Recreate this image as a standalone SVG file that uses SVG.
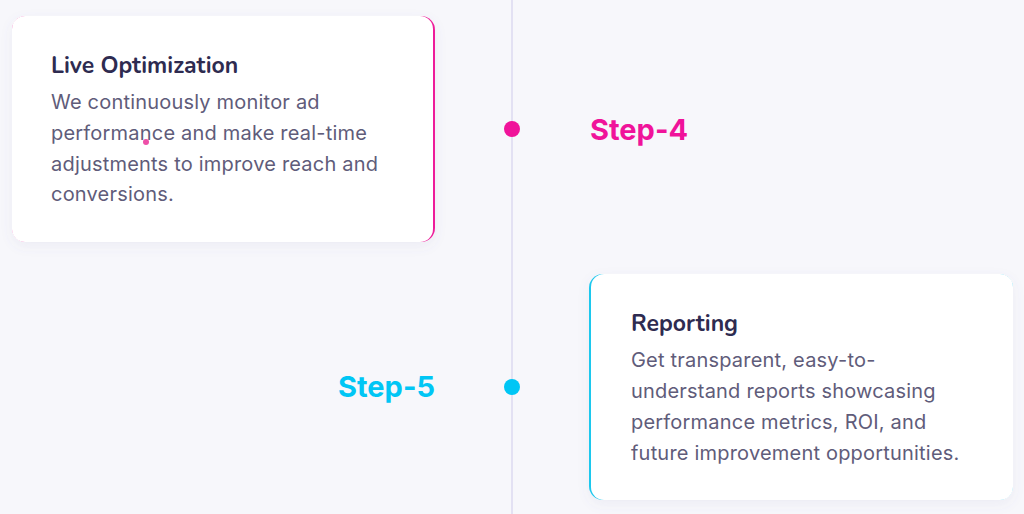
<svg xmlns="http://www.w3.org/2000/svg" width="1024" height="514" viewBox="0 0 1024 514">
<defs>
<filter id="sh" x="-10%" y="-10%" width="120%" height="125%"><feDropShadow dx="0" dy="4" stdDeviation="6" flood-color="#6a6aa0" flood-opacity="0.08"/></filter>
<style>
.title{font-family:"Nunito","Noto Sans",Inter,sans-serif;font-weight:700;font-size:23px;fill:#2e2b50}
.body{font-family:Inter,"Noto Sans",sans-serif;font-size:20px;letter-spacing:0.2px;fill:#5f5c7a}
.step{font-family:Inter,"Noto Sans",sans-serif;font-weight:700;font-size:29px}
.card{fill:#ffffff}
</style>
</defs>
<rect width="1024" height="514" fill="#f7f7fb"/>
<g id="connectors">
<line x1="512" y1="0" x2="512" y2="514" stroke="#dddaf0" stroke-width="1.5"/>
</g>
<g id="card-live-optimization">
<rect x="12" y="16" width="423" height="226" rx="14" fill="#ee1d9a" filter="url(#sh)"/>
<rect x="12" y="16" width="421" height="226" rx="13" class="card"/>
<text class="title" x="51" y="73">Live Optimization</text>
<text class="body" x="51" y="109">We continuously monitor ad</text>
<text class="body" x="51" y="140">performance and make real-time</text>
<text class="body" x="51" y="171">adjustments to improve reach and</text>
<text class="body" x="51" y="201">conversions.</text>
<circle cx="146" cy="142" r="3" fill="#ee4fa8"/>
</g>
<g id="step-4">
<circle cx="512" cy="129" r="8" fill="#f0139a"/>
<text class="step" x="590" y="140" fill="#f0139a">Step-4</text>
</g>
<g id="step-5">
<circle cx="512" cy="387" r="8" fill="#00c6f5"/>
<text class="step" x="338" y="397" fill="#00c6f5">Step-5</text>
</g>
<g id="card-reporting">
<rect x="589" y="274" width="424" height="226" rx="14" fill="#1ec8ee" filter="url(#sh)"/>
<rect x="591" y="274" width="422" height="226" rx="13" class="card"/>
<text class="title" x="631" y="331">Reporting</text>
<text class="body" x="631" y="367">Get transparent, easy-to-</text>
<text class="body" x="631" y="398">understand reports showcasing</text>
<text class="body" x="631" y="429">performance metrics, ROI, and</text>
<text class="body" x="631" y="460">future improvement opportunities.</text>
</g>
</svg>
